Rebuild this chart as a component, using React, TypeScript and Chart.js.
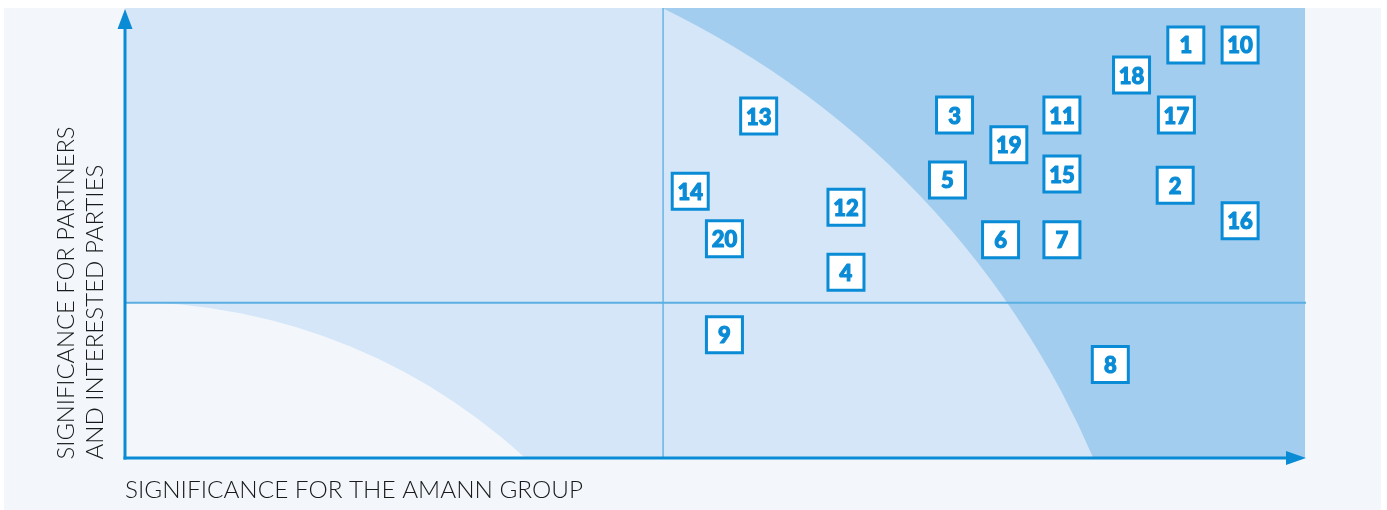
import React, { useEffect, useRef } from 'react';
import { Chart, registerables } from 'chart.js';

Chart.register(...registerables);

// ---- data ----
const topicLabels = ['1', '2', '3', '4', '5', '6', '7', '8', '9', '10', '11', '12', '13', '14', '15', '16', '17', '18', '19', '20'];
const amannSignificance = [89.9, 89.0, 70.3, 61.1, 69.7, 74.2, 79.4, 83.5, 50.8, 94.5, 79.4, 61.1, 53.7, 47.9, 79.4, 94.5, 89.1, 85.3, 74.9, 50.8];
const partnerSignificance = [91.8, 60.6, 76.2, 41.3, 61.8, 48.5, 48.5, 20.8, 27.4, 91.8, 76.2, 55.7, 76.0, 59.3, 63.1, 52.7, 76.2, 85.1, 69.6, 48.7];

const xAxisTitle = 'SIGNIFICANCE FOR THE AMANN GROUP';
const yAxisTitleLines = ['SIGNIFICANCE FOR PARTNERS', 'AND INTERESTED PARTIES'];

const quadrantX = 45.6;
const quadrantY = 34.5;
// boundary arcs (ellipses in data space)
const outerArc = { cx: 12.8, cy: -78.2, rx: 75.4, ry: 197.8 };
const innerArc = { cx: 0, cy: -96.6, rx: 50.07, ry: 131.3 };

// ---- styles ----
const PAGE_BG = '#f3f7fc';
const LIGHT = '#d4e6f7';
const DARK = '#a3cdef';
const AXIS = '#0a8bd6';
const QUAD = '#5aaee2';
const TEXT = '#1a1a1a';

const matrixPlugin = {
  id: 'matrixPlugin',
  beforeDatasetsDraw(chart: any) {
    const { ctx, chartArea: a, scales } = chart;
    const x = scales.x;
    const y = scales.y;
    ctx.save();
    ctx.beginPath();
    ctx.rect(a.left, a.top, a.right - a.left, a.bottom - a.top);
    ctx.clip();
    ctx.fillStyle = DARK;
    ctx.fillRect(a.left, a.top, a.right - a.left, a.bottom - a.top);
    const ell = (arc: any, color: string) => {
      const px = x.getPixelForValue(arc.cx);
      const py = y.getPixelForValue(arc.cy);
      const rx = x.getPixelForValue(arc.cx + arc.rx) - px;
      const ry = py - y.getPixelForValue(arc.cy + arc.ry);
      ctx.beginPath();
      ctx.ellipse(px, py, rx, ry, 0, 0, Math.PI * 2);
      ctx.fillStyle = color;
      ctx.fill();
    };
    ell(outerArc, LIGHT);
    ell(innerArc, PAGE_BG);
    ctx.restore();

    // quadrant lines
    ctx.save();
    ctx.strokeStyle = QUAD;
    const qx = x.getPixelForValue(quadrantX);
    const qy = y.getPixelForValue(quadrantY);
    ctx.lineWidth = 1.3;
    ctx.beginPath();
    ctx.moveTo(qx, a.top);
    ctx.lineTo(qx, a.bottom);
    ctx.stroke();
    ctx.lineWidth = 2;
    ctx.beginPath();
    ctx.moveTo(a.left, qy);
    ctx.lineTo(a.right + 1, qy);
    ctx.stroke();

    // axes with arrows
    ctx.strokeStyle = AXIS;
    ctx.fillStyle = AXIS;
    ctx.lineWidth = 3;
    ctx.beginPath();
    ctx.moveTo(a.left, a.bottom + 1.5);
    ctx.lineTo(a.left, a.top + 20);
    ctx.stroke();
    ctx.beginPath();
    ctx.moveTo(a.left, a.top + 1);
    ctx.lineTo(a.left - 7.5, a.top + 21);
    ctx.lineTo(a.left + 7.5, a.top + 21);
    ctx.closePath();
    ctx.fill();
    ctx.beginPath();
    ctx.moveTo(a.left - 1.5, a.bottom);
    ctx.lineTo(a.right - 18, a.bottom);
    ctx.stroke();
    ctx.beginPath();
    ctx.moveTo(a.right + 1, a.bottom);
    ctx.lineTo(a.right - 19, a.bottom - 7);
    ctx.lineTo(a.right - 19, a.bottom + 7);
    ctx.closePath();
    ctx.fill();

    // axis titles
    const font = '300 24px Lato, "DejaVu Sans", sans-serif';
    ctx.font = font;
    ctx.fillStyle = TEXT;
    ctx.textAlign = 'left';
    ctx.textBaseline = 'alphabetic';
    const fitText = (text: string, tx: number, ty: number, target: number, rot: number) => {
      const w = ctx.measureText(text).width;
      ctx.save();
      ctx.translate(tx, ty);
      ctx.rotate(rot);
      ctx.scale(target / w, 1);
      ctx.fillText(text, 0, 0);
      ctx.restore();
    };
    fitText(xAxisTitle, a.left, a.bottom + 39.7, 458, 0);
    fitText(yAxisTitleLines[0], a.left - 51.5, a.bottom + 1.5, 333, -Math.PI / 2);
    fitText(yAxisTitleLines[1], a.left - 22.3, a.bottom + 1.5, 295, -Math.PI / 2);
    ctx.restore();
  },
  afterDatasetsDraw(chart: any) {
    const { ctx } = chart;
    const meta = chart.getDatasetMeta(0);
    ctx.save();
    ctx.font = '900 22px Lato, "DejaVu Sans", sans-serif';
    ctx.fillStyle = AXIS;
    ctx.strokeStyle = AXIS;
    ctx.lineWidth = 1.1;
    ctx.lineJoin = 'round';
    ctx.textAlign = 'center';
    ctx.textBaseline = 'alphabetic';
    meta.data.forEach((el: any, i: number) => {
      ctx.fillText(topicLabels[i], el.x, el.y + 8.5);
      ctx.strokeText(topicLabels[i], el.x, el.y + 8.5);
    });
    ctx.restore();
  },
};

export default function App() {
  const ref = useRef<HTMLCanvasElement | null>(null);
  useEffect(() => {
    if (!ref.current) return;
    const chart = new Chart(ref.current, {
      type: 'scatter',
      data: {
        labels: topicLabels,
        datasets: [
          {
            data: amannSignificance.map((v, i) => ({ x: v, y: partnerSignificance[i] })),
            pointStyle: 'rect',
            pointRadius: 25.46,
            pointHoverRadius: 25.46,
            backgroundColor: '#ffffff',
            borderColor: AXIS,
            borderWidth: 3,
            pointHoverBorderWidth: 3,
            clip: false,
          } as any,
        ],
      },
      options: {
        animation: false,
        responsive: false,
        devicePixelRatio: 1,
        events: [],
        layout: { autoPadding: false, padding: { left: 121, right: 76, top: 0, bottom: 52 } },
        scales: {
          x: { type: 'linear', min: 0, max: 100, display: false },
          y: { type: 'linear', min: 0, max: 100, display: false },
        },
        plugins: {
          legend: { display: false },
          tooltip: { enabled: false },
        },
      } as any,
      plugins: [matrixPlugin],
    });
    return () => chart.destroy();
  }, []);
  return (
    <div style={{ position: 'absolute', left: 4, top: 8, width: 1377, height: 502, background: PAGE_BG }}>
      <canvas ref={ref} width={1377} height={502} style={{ display: 'block' }} />
    </div>
  );
}
